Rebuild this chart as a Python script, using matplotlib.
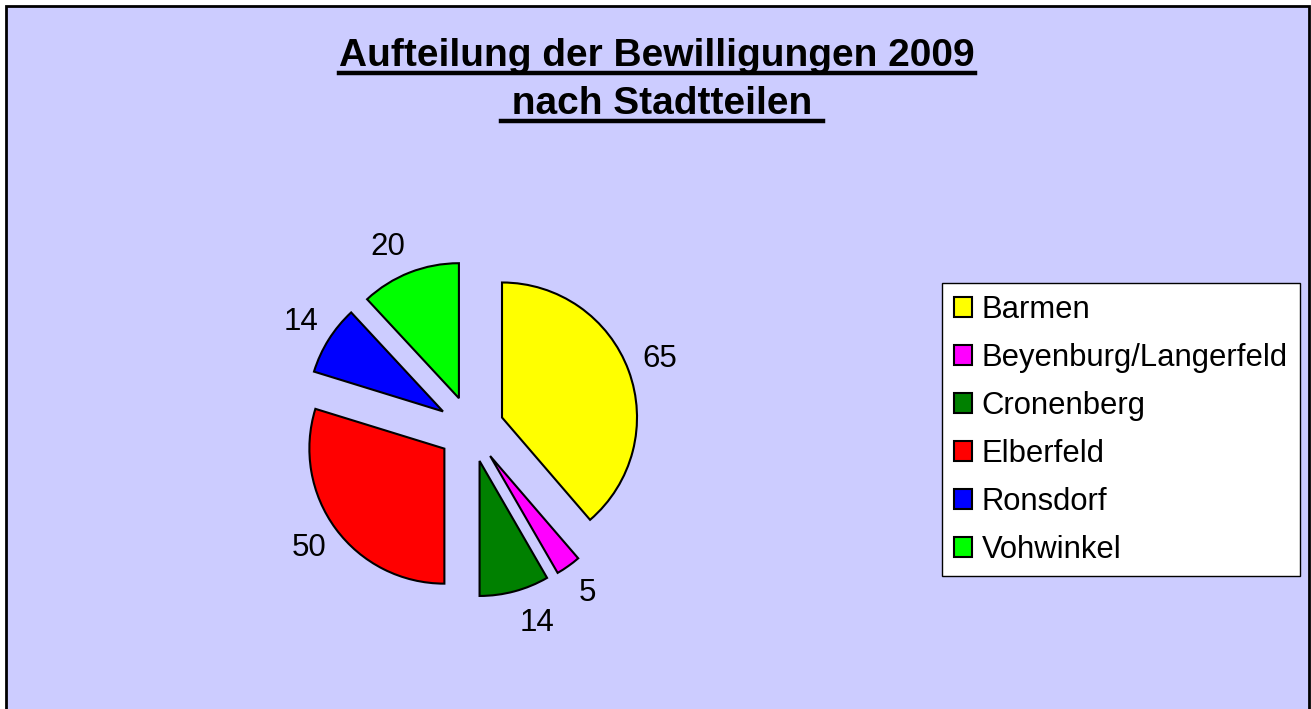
import matplotlib
matplotlib.use('Agg')
import matplotlib.pyplot as plt
from matplotlib.patches import Rectangle
from matplotlib.lines import Line2D

# Bewilligungen 2009 je Stadtteil
districts = ['Barmen', 'Beyenburg/Langerfeld', 'Cronenberg', 'Elberfeld', 'Ronsdorf', 'Vohwinkel']
approvals = [65, 5, 14, 50, 14, 20]
colors = ['#FFFF00', '#FF00FF', '#008000', '#FF0000', '#0000FF', '#00FF00']
title_lines = ['Aufteilung der Bewilligungen 2009', ' nach Stadtteilen ']

plt.rcParams['font.family'] = ['Liberation Sans', 'DejaVu Sans']

W, H = 1311, 709
fig = plt.figure(figsize=(W / 100, H / 100), dpi=100, facecolor='white')

# chart area background with black border (bottom edge cut off)
fig.patches.append(Rectangle((6 / W, -0.05), 1303 / W, 1.05 - 6 / H,
                             transform=fig.transFigure, facecolor='#CCCCFF',
                             edgecolor='#000000', linewidth=2, zorder=-1))

# pie: centre at (471, 429) px, radius 135 px
cx, cy, r = 471, 429, 135
half = 2 * r
ax = fig.add_axes([(cx - half) / W, (H - cy - half) / H, 2 * half / W, 2 * half / H])
total = sum(approvals)
wedges, texts, autotexts = ax.pie(
    approvals, colors=colors, startangle=90, counterclock=False,
    explode=[0.245] * len(approvals), radius=1,
    autopct=lambda p: f'{round(p * total / 100):.0f}', pctdistance=1.245,
    wedgeprops=dict(edgecolor='black', linewidth=1.5),
    textprops=dict(fontsize=22.5, color='black'))
ax.set_xlim(-2, 2)
ax.set_ylim(-2, 2)
ax.set_facecolor('none')
ax.set_zorder(1)

# small nudges of the value labels (axis units, 1 unit = 135 px)
nudges = {2: (0.10, 0.0), 5: (-0.07, -0.04)}
for i, (dx, dy) in nudges.items():
    x, y = autotexts[i].get_position()
    autotexts[i].set_position((x + dx, y + dy))

leg = fig.legend(wedges, districts, loc='upper left',
                 bbox_to_anchor=(942 / W, 1 - 283 / H), bbox_transform=fig.transFigure,
                 fontsize=22.3, frameon=True, fancybox=False, shadow=False, framealpha=1,
                 handlelength=0.6, handleheight=0.6, handletextpad=0.3,
                 labelspacing=0.58, borderpad=0.38, borderaxespad=0)
leg.get_frame().set_edgecolor('black')
leg.get_frame().set_facecolor('white')
leg.get_frame().set_linewidth(1.0)

# title, underlined
t1 = fig.text(657 / W, 1 - 66 / H, title_lines[0], ha='center', va='baseline',
              fontsize=28, fontweight='bold')
t2 = fig.text(662 / W, 1 - 114 / H, title_lines[1], ha='center', va='baseline',
              fontsize=28, fontweight='bold')
fig.canvas.draw()
renderer = fig.canvas.get_renderer()
for t, uy in [(t1, 72.5), (t2, 120.5)]:
    bb = t.get_window_extent(renderer)
    fig.add_artist(Line2D([bb.x0 / W, bb.x1 / W], [1 - uy / H, 1 - uy / H],
                          transform=fig.transFigure, color='black', linewidth=3.2))

fig.savefig('out.png', dpi=100, facecolor='white')
